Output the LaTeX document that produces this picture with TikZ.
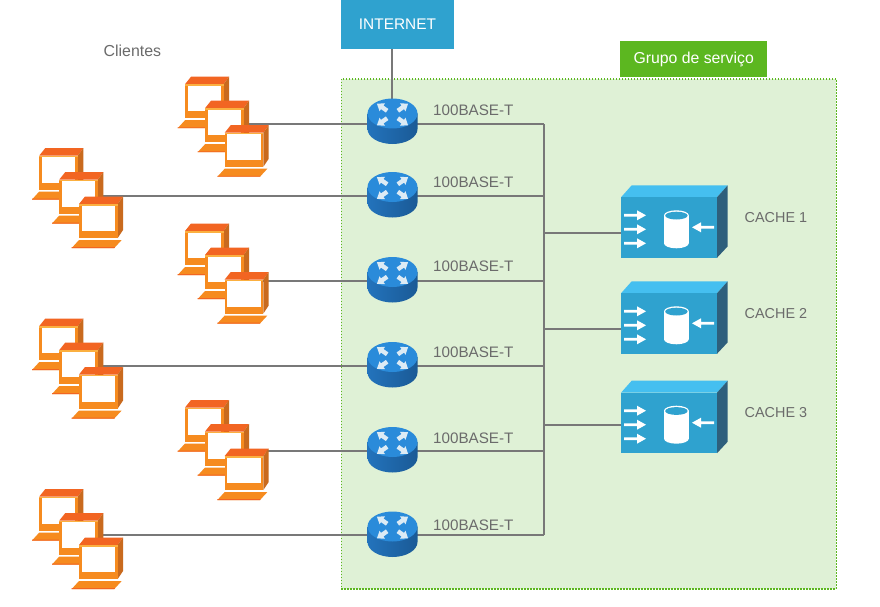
\documentclass[tikz,border=0pt]{standalone}
\usepackage{fontspec}
\setmainfont{Liberation Sans}
\definecolor{lbl}{HTML}{6B6B6B}
\definecolor{wire}{HTML}{787878}
\definecolor{panelfill}{HTML}{DFF1D6}
\definecolor{grn}{HTML}{5CB720}
\definecolor{blu}{HTML}{2FA2CF}
\definecolor{blutop}{HTML}{45BFF0}
\definecolor{bluside}{HTML}{2E5F7C}
\definecolor{orfront}{HTML}{F68B1F}
\definecolor{ortop}{HTML}{F26522}
\definecolor{orside}{HTML}{C96A1E}
\definecolor{orlight}{HTML}{FBB040}
\definecolor{rtop}{HTML}{2A8BDA}
\definecolor{rside}{HTML}{2373BC}
\definecolor{rsidedk}{HTML}{1A5A96}
\definecolor{rarrow}{HTML}{DCEBF5}
\tikzset{
  x=1pt,y=-1pt,
  wireline/.style={draw=wire,line width=1.6pt},
  lab/.style={text=lbl,font=\fontsize{15.2}{18}\selectfont,inner sep=0pt,anchor=west},
  anchorpt/.style={inner sep=0pt,minimum size=0pt},
  monitor/.pic={
    \fill[ortop] (0,0) -- (6,-7.5) -- (44,-7.5) -- (38.7,0) -- cycle;
    \fill[orside] (38.7,0) -- (44,-7.5) -- (44,26) -- (38.7,34) -- cycle;
    \fill[orfront] (0,0) rectangle (38.7,34);
    \fill[orlight] (0,0) rectangle (38.7,1.7);
    \fill[white] (2.7,1.7) rectangle (36,27);
    \fill[orfront] (0,36) -- (42.7,36) -- (35.3,44) -- (-7.3,44) -- cycle;
    \fill[ortop] (-7.3,43.2) -- (36,43.2) -- (35.3,44) -- (-7.3,44) -- cycle;
  },
  clientgroup/.pic={
    \pic at (0,0) {monitor};
    \pic at (20,24) {monitor};
    \pic at (39.7,48.5) {monitor};
  },
  routerarrow/.pic={
    \fill[rarrow] (6.5,-2.2) -- (12.5,-2.2) -- (12.5,-4.8) -- (19,0) -- (12.5,4.8) -- (12.5,2.2) -- (6.5,2.2) -- cycle;
  },
  routericon/.pic={
    \shade[left color=rside,right color=rsidedk] (-25,0) -- (-25,15.5) arc[start angle=180,end angle=360,x radius=25,y radius=-15] -- (25,0) -- cycle;
    \fill[rtop] (0,0) ellipse[x radius=25,y radius=15];
    \begin{scope}[shift={(0,1)}]
      \pic[rotate=35] {routerarrow};
      \pic[rotate=145] {routerarrow};
      \pic[rotate=215] {routerarrow};
      \pic[rotate=325] {routerarrow};
    \end{scope}
  },
  cacheicon/.pic={
    \fill[blutop] (0,0) -- (10.7,-12) -- (106.7,-12) -- (96,0) -- cycle;
    \fill[bluside] (96,0) -- (106.7,-12) -- (106.7,49) -- (96,60.5) -- cycle;
    \fill[blu] (0,0) rectangle (96,60.5);
    \foreach \yy in {18,32,46}{
      \fill[white] (3,\yy-1.4) -- (16,\yy-1.4) -- (16,\yy-5) -- (25,\yy) -- (16,\yy+5) -- (16,\yy+1.4) -- (3,\yy+1.4) -- cycle;
    }
    \fill[white] (93,28.6) -- (80,28.6) -- (80,25) -- (71,30) -- (80,35) -- (80,31.4) -- (93,31.4) -- cycle;
    \fill[white] (43,18) -- (43,46) arc[start angle=180,end angle=360,x radius=12.4,y radius=-5] -- (67.8,18) -- cycle;
    \fill[white] (55.4,18) ellipse[x radius=12.4,y radius=5];
    \fill[blu] (55.4,18.3) ellipse[x radius=11.2,y radius=3.9];
  },
}
\begin{document}
\begin{tikzpicture}
\useasboundingbox (0,0) rectangle (880,607);
\fill[white] (0,0) rectangle (880,607);
% service group panel
\node[draw=grn,dash pattern=on 1.5pt off 1.5pt,line width=1.6pt,fill=panelfill,minimum width=495pt,minimum height=510pt,anchor=north west,inner sep=0pt] (panel) at (340.5,78) {};
\node[fill=grn,text=white,font=\fontsize{15.8}{18}\selectfont,minimum width=147pt,minimum height=36pt,anchor=north west,inner sep=0pt] (grp) at (620,41) {Grupo de serviço};
\node[fill=blu,text=white,font=\fontsize{15.4}{18}\selectfont,minimum width=112.5pt,minimum height=49pt,anchor=north west,inner sep=0pt] (net) at (341,0) {INTERNET};
\node[lab,font=\fontsize{15.9}{18}\selectfont] (cli) at (103.5,51) {Clientes};
% anchors
\foreach \i/\ry in {1/124,2/196,3/281,4/366,5/451,6/535}{
  \node[anchorpt] (r\i) at (392,\ry) {};
  \node[anchorpt] (b\i) at (544,\ry) {};
}
\foreach \i/\cx in {1/249,2/103,3/249,4/103,5/249,6/103}{
  \node[anchorpt] (c\i) at (\cx,0 |- r\i) {};
}
\foreach \i/\ly in {1/233,2/329,3/425}{
  \node[anchorpt] (k\i) at (621,\ly) {};
  \node[anchorpt] (j\i) at (544,\ly) {};
}
% connectors
\draw[wireline] (net.south -| r1) -- (r1);
\foreach \i in {1,...,6}{
  \draw[wireline] (c\i) -- (r\i) -- (b\i);
}
\draw[wireline] (b1.center) -- (b6.center);
\foreach \i in {1,2,3}{
  \draw[wireline] (j\i) -- (k\i);
}
% clients
\foreach \px/\py in {185/84.2,39.3/155.5,185/231,39.3/326,185/407.5,39.3/496.5}{
  \pic at (\px,\py) {clientgroup};
}
% routers
\foreach \ty in {113.5,187,272,357,442,526.5}{
  \pic at (392.5,\ty) {routericon};
}
% labels
\foreach \i/\ty in {1/110,2/182,3/266,4/352,5/438,6/525}{
  \node[lab] (t\i) at (433,\ty) {100BASE-T};
}
% caches
\foreach \i/\cy in {1/197.3,2/293.3,3/392.7}{
  \pic at (621,\cy) {cacheicon};
  \node[lab,font=\fontsize{14.4}{18}\selectfont] (cl\i) at (744.5,\cy+20) {CACHE \i};
}
\end{tikzpicture}
\end{document}
